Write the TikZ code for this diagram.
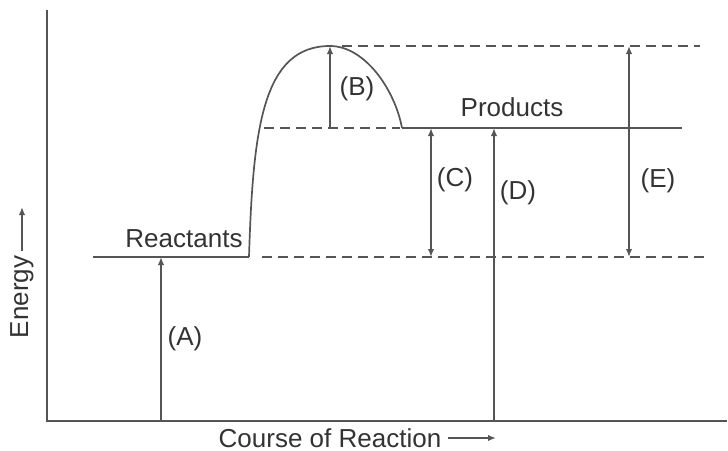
\documentclass[tikz,border=0pt]{standalone}
\usepackage{fontspec}
\setmainfont{Liberation Sans}
\usetikzlibrary{arrows.meta}
\definecolor{ln}{HTML}{555555}
\definecolor{tx}{HTML}{333333}
\tikzset{
  lvl/.style={draw=ln, line width=0.85pt},
  dsh/.style={draw=ln, line width=0.85pt, dash pattern=on 5pt off 3pt},
  arr/.style={draw=ln, line width=0.75pt, -{Latex[length=4pt,width=3.2pt]}},
  darr/.style={draw=ln, line width=0.75pt, {Latex[length=4pt,width=3.2pt]}-{Latex[length=4pt,width=3.2pt]}},
  lbl/.style={text=tx, font=\fontsize{13}{15}\selectfont, inner sep=0pt},
}
\begin{document}
\begin{tikzpicture}[x=0.5pt,y=-0.5pt]
\useasboundingbox (0,0) rectangle (728,450);
% axes
\coordinate (ytop) at (47,10);
\coordinate (O) at (47,421);
\coordinate (xend) at (727,421);
\draw[lvl] (ytop) -- (O) -- (xend);
% levels
\coordinate (R1) at (93,257);
\coordinate (R2) at (249,257);
\coordinate (Rd1) at (262,257);
\coordinate (Rd2) at (707,257);
\coordinate (T) at (330,46);
\coordinate (Td1) at (342,46);
\coordinate (Td2) at (700,46);
\coordinate (P1) at (402,128);
\coordinate (P2) at (682,128);
\coordinate (Pd1) at (264,128);
\coordinate (Pd2) at (400,128);
\draw[lvl] (R1) -- (R2);
\draw[lvl] (P1) -- (P2);
\draw[dsh] (Rd1) -- (Rd2);
\draw[dsh] (Td1) -- (Td2);
\draw[dsh] (Pd1) -- (Pd2);
% curve
\draw[lvl] (R2) .. controls (253,130) and (262,46) .. (T)
  .. controls (365,46) and (395,90) .. (P1);
% arrows
\coordinate (A0) at (161,421); \coordinate (A1) at (161,257);
\coordinate (B0) at (330,128); \coordinate (B1) at (330,46);
\coordinate (C0) at (431,257); \coordinate (C1) at (431,128);
\coordinate (D0) at (494,421); \coordinate (D1) at (494,128);
\coordinate (E0) at (629,257); \coordinate (E1) at (629,46);
\draw[arr] (A0) -- (A1);
\draw[arr] (B0) -- (B1);
\draw[darr] (C0) -- (C1);
\draw[arr] (D0) -- (D1);
\draw[darr] (E0) -- (E1);
% labels
\node[lbl] (lA) at (185,339) {(A)};
\node[lbl] (lB) at (357,89) {(B)};
\node[lbl] (lC) at (455,180) {(C)};
\node[lbl] (lD) at (518,193) {(D)};
\node[lbl] (lE) at (658,181) {(E)};
\node[lbl] (react) at (184,239) {Reactants};
\node[lbl] (prod) at (512,107) {Products};
\node[lbl, rotate=90] (energy) at (22,297) {Energy};
\coordinate (eTip) at (22,207);
\draw[arr] ([yshift=2pt]energy.east) -- (eTip);
\node[lbl] (course) at (330,438) {Course of Reaction};
\coordinate (cTip) at (496,438);
\draw[arr] ([xshift=3pt]course.east) -- (cTip);
\end{tikzpicture}
\end{document}
